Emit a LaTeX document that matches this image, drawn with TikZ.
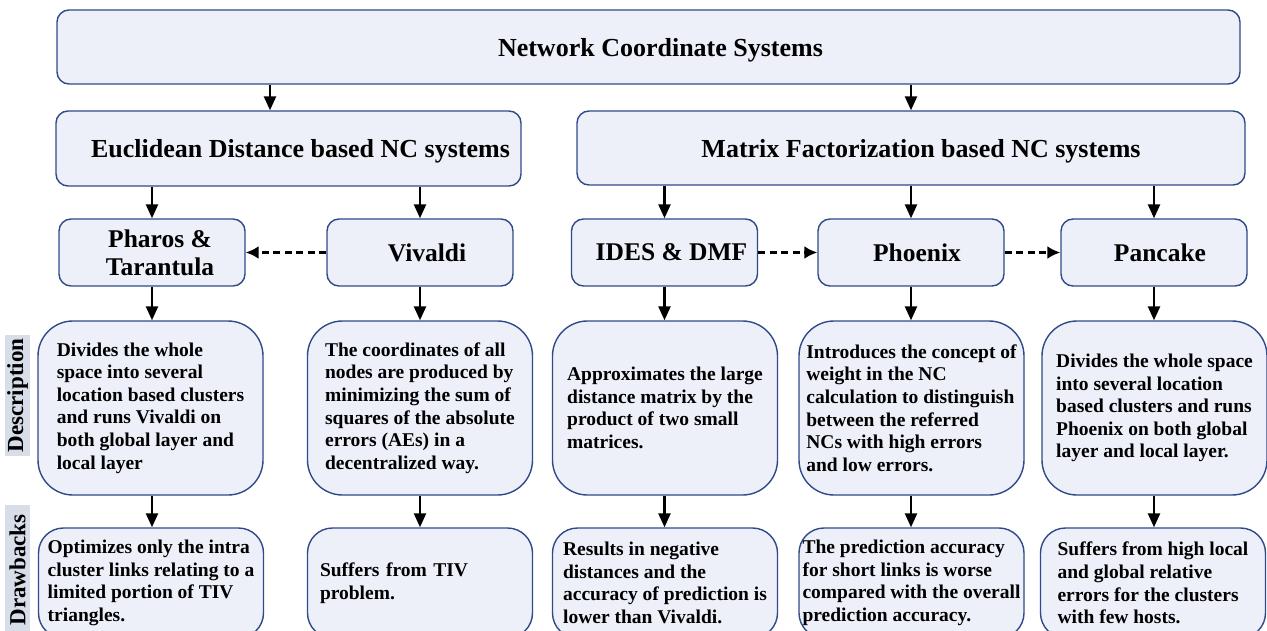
\documentclass[tikz,border=0pt]{standalone}
\usepackage{fontspec}
\setmainfont{Liberation Serif}
\usetikzlibrary{arrows.meta}
\definecolor{boxfill}{HTML}{EDF0F9}
\definecolor{boxline}{HTML}{2F4A88}
\definecolor{sidefill}{HTML}{D7DEE9}

\begin{document}
\begin{tikzpicture}[x=1pt,y=-1pt,
  box/.style={draw=boxline, fill=boxfill, line width=1.4pt, rounded corners=12pt, inner sep=0pt},
  hd/.style={font=\bfseries\fontsize{26}{30}\selectfont, yshift=-3pt},
  al/.style={font=\bfseries\fontsize{25.5}{28}\selectfont, align=center},
  algo/.style={box, minimum width=186pt, minimum height=67pt},
  desc/.style={box, rounded corners=35pt, minimum width=225pt, minimum height=174pt, align=left, font=\bfseries\fontsize{19.5}{22.6}\selectfont},
  drawb/.style={desc, rounded corners=25pt, minimum height=110pt},
  side/.style={fill=sidefill, rotate=90, minimum height=25pt, inner sep=0pt, font=\bfseries\fontsize{23}{26}\selectfont},
  arr/.style={line width=2.5pt, -{Triangle[width=12pt,length=14pt]}},
  darr/.style={line width=2.5pt, dash pattern=on 7pt off 4.5pt, -{Latex[width=13pt,length=13pt]}}]
\path[use as bounding box, clip] (0,0) rectangle (1267,631);

\node[box, minimum width=1183pt, minimum height=74pt, label={[hd, xshift=12pt]center:Network Coordinate Systems}] (ncs) at (648.5,47) {};
\node[box, minimum width=465pt, minimum height=75pt, label={[hd, xshift=12pt]center:Euclidean Distance based NC systems}] (euc) at (288.5,148.5) {};
\node[box, minimum width=668pt, minimum height=74pt, label={[hd, xshift=10pt]center:Matrix Factorization based NC systems}] (mf) at (911,148) {};

\node[algo, label={[al, xshift=8pt]center:Pharos \&\\Tarantula}] (pt) at (152,252.5) {};
\node[algo, label={[al, xshift=7pt]center:Vivaldi}] (viv) at (420,252.5) {};
\node[algo, label={[al, xshift=7pt]center:IDES \& DMF}] (ides) at (664.5,252.5) {};
\node[algo, label={[al, xshift=6pt]center:Phoenix}] (phx) at (911,252.5) {};
\node[algo, label={[al, xshift=6pt]center:Pancake}] (pan) at (1154,252.5) {};

\node[desc] (d1) at (150.5,408) {Divides the whole\\space into several\\location based clusters\\and runs\  Vivaldi on\\both global layer and\\local layer};
\node[desc] (d2) at (420,408) {The coordinates of all\\nodes are produced by\\minimizing the sum of\\squares of the absolute\\errors (AEs) in a\\decentralized way.};
\node[desc] (d3) at (665,408) {Approximates\  the large\\distance matrix by the\\product of two small\\matrices.};
\node[desc] (d4) at (911.5,408) {Introduces the concept of\\weight in the NC\\calculation to distinguish\\between the referred\\NCs with high errors\\and low errors.};
\node[desc] (d5) at (1154.5,408) {Divides the whole space\\into several\  location\\based clusters and\  runs\\Phoenix\  on both global\\layer and local layer.};

\node[drawb] (b1) at (151,583) {Optimizes only the intra\\cluster links relating to a\\limited portion of\  TIV\\triangles.};
\node[drawb, text width=200pt] (b2) at (420,583) {Suffers\  from TIV\\problem.};
\node[drawb] (b3) at (665,583) {Results in negative\\distances and the\\accuracy of prediction is\\lower than Vivaldi.};
\node[drawb] (b4) at (911.5,583) {The prediction accuracy\\for short links is\  worse\\compared with the overall\\prediction accuracy.};
\node[drawb] (b5) at (1153,583) {Suffers from high local\\and\  global\  relative\\errors\  for the clusters\\with few hosts.};

\node[side, minimum width=121pt] (sd) at (17.5,395.5) {Description};
\node[side, minimum width=130pt] (sb) at (17.5,570) {Drawbacks};

\draw[arr] (270,0 |- ncs.south) -- (270,0 |- euc.north);
\draw[arr] (mf.north |- ncs.south) -- (mf.north);
\draw[arr] (pt.north |- euc.south) -- (pt.north);
\draw[arr] (viv.north |- euc.south) -- (viv.north);
\draw[arr] (ides.north |- mf.south) -- (ides.north);
\draw[arr] (phx.north |- mf.south) -- (phx.north);
\draw[arr] (pan.north |- mf.south) -- (pan.north);
\draw[darr] (viv.west) -- (pt.east);
\draw[darr] (ides.east) -- (phx.west);
\draw[darr] (phx.east) -- (pan.west);
\foreach \a/\d/\b in {pt/d1/b1, viv/d2/b2, ides/d3/b3, phx/d4/b4, pan/d5/b5} {
  \draw[arr] (\a.south) -- (\a.south |- \d.north);
  \draw[arr] (\a.south |- \d.south) -- (\a.south |- \b.north);
}
\end{tikzpicture}
\end{document}
